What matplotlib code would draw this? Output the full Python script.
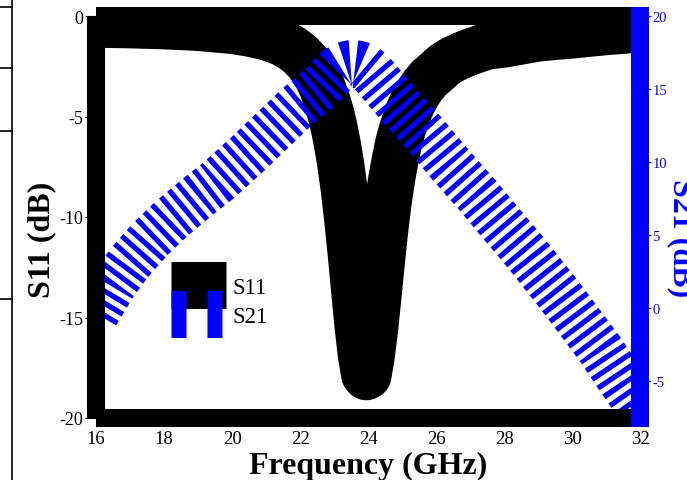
import matplotlib
matplotlib.use('Agg')
import matplotlib.pyplot as plt
from matplotlib.lines import Line2D

# ---------------- data ----------------
freq_s11 = [16, 17, 18, 19, 20, 20.5, 21.0, 21.25, 21.5, 21.75, 22.0, 22.25,
            22.5, 22.65, 22.8, 22.9, 23.0, 23.1, 23.2, 23.3, 23.4, 23.5, 23.6,
            23.7, 23.8, 23.9, 23.95, 24.0, 24.1, 24.2, 24.3, 24.4, 24.5, 24.6,
            24.7, 24.8, 24.9, 25.0, 25.15, 25.3, 25.45, 25.6, 25.8, 26.0,
            26.25, 26.5, 26.75, 27.0, 27.5, 28.0, 28.5, 29.0, 29.5, 30.0,
            31.0, 32.0]
s11_db = [-0.41, -0.44, -0.49, -0.57, -0.72, -0.85, -1.04, -1.18, -1.35, -1.59,
          -1.91, -2.35, -3.0, -3.54, -4.24, -4.82, -5.52, -6.38, -7.4, -8.64,
          -10.1, -11.76, -13.57, -15.35, -16.83, -17.85, -17.95, -17.9, -16.9,
          -15.51, -13.87, -12.16, -10.56, -9.2, -8.07, -7.15, -6.34, -5.7,
          -4.93, -4.35, -3.88, -3.5, -3.09, -2.8, -2.42, -2.16, -1.96, -1.79,
          -1.5, -1.4, -1.25, -1.1, -1.02, -0.95, -0.78, -0.65]

freq_s21 = [16.0, 16.29, 16.52, 17.0, 17.6, 18.21, 19.06, 19.59, 20.53, 21.2,
            21.91, 22.59, 23.11, 23.27, 23.44, 23.56, 23.74, 23.9, 24.09, 24.5,
            24.94, 25.7, 26.41, 27.2, 27.88, 28.68, 29.65, 30.82, 31.47, 32.0]
s21_db = [-0.34, 0.78, 1.67, 3.17, 4.75, 6.11, 7.76, 8.72, 10.7, 12.2,
          13.78, 15.1, 16.37, 16.6, 16.73, 16.75, 16.7, 16.54, 16.17, 15.05,
          13.84, 11.85, 9.87, 7.8, 5.9, 3.7, 0.85, -2.77, -5.03, -6.8]

xticks = [16, 18, 20, 22, 24, 26, 28, 30, 32]
yticks_left = [0, -5, -10, -15, -20]
yticks_right = [-5, 0, 5, 10, 15, 20]
series_labels = ['S11', 'S21']

# ---------------- style ----------------
plt.rcParams['font.family'] = ['Liberation Serif', 'DejaVu Serif']
plt.rcParams['axes.unicode_minus'] = False
plt.rcParams['lines.scale_dashes'] = False

W, H = 687, 481
fig = plt.figure(figsize=(W / 100, H / 100), dpi=100)

x0, x1, ytop, ybot = 96, 640, 17, 419
ax = fig.add_axes([x0 / W, 1 - ybot / H, (x1 - x0) / W, (ybot - ytop) / H])
ax2 = ax.twinx()

LW = 47 * 72 / 100  # thick curves (~47 px)
SPW = 18 * 72 / 100  # thick spines (~18 px)

ax.plot(freq_s11, s11_db, color='black', lw=LW,
        solid_joinstyle='round', solid_capstyle='butt')
ax2.plot(freq_s21, s21_db, color='blue', lw=LW, linestyle=(0, (3.8, 3.7)),
         dash_capstyle='butt', dash_joinstyle='bevel')

ax.set_xlim(16, 32)
ax.set_ylim(-20, 0)
ax2.set_ylim(-7.5, 20)

ax.set_xticks(xticks)
ax.set_xticklabels([str(t) for t in xticks], fontsize=13.5)
ax.set_yticks(yticks_left)
ax.set_yticklabels([str(t) for t in yticks_left], fontsize=13)
ax2.set_yticks(yticks_right)
ax2.set_yticklabels([str(t) for t in yticks_right], fontsize=10.5, color='blue')

ax.tick_params(axis='x', length=0, pad=9)
ax.tick_params(axis='y', direction='out', length=8, width=0.8, pad=1)
ax2.tick_params(axis='y', direction='out', length=8, width=0.8, pad=1,
                colors='blue')

for a in (ax, ax2):
    for name, sp in a.spines.items():
        sp.set_linewidth(SPW)
        sp.set_capstyle('butt')
        sp.set_color('blue' if name == 'right' else 'black')
ax2.spines['right'].set_capstyle('projecting')
ax2.spines['right'].set_zorder(2.6)

# axis labels
fig.text(368 / W, 1 - 474 / H, 'Frequency (GHz)', fontsize=23, fontweight='bold',
         ha='center', va='baseline')
fig.text(42 / W, 1 - 240 / H, 'S11 (dB)', fontsize=23, fontweight='bold',
         rotation=90, ha='center', va='center')
fig.text(681 / W, 1 - 238 / H, 'S21 (dB)', fontsize=23, fontweight='bold',
         rotation=270, ha='center', va='center', color='blue')

# legend
h1 = Line2D([], [], color='black', lw=LW, solid_capstyle='butt')
h2 = Line2D([], [], color='blue', lw=LW, linestyle=(0, (10.8, 15.1)),
            dash_capstyle='butt')
ax2.legend([h1, h2], series_labels, loc='upper left',
           bbox_to_anchor=(171 / W, 1 - 277.5 / H), bbox_transform=fig.transFigure,
           frameon=False, fontsize=16.5, handlelength=2.4, handletextpad=0.3,
           borderpad=0, borderaxespad=0, labelspacing=0.37)

# stray frame lines at the very left edge of the reference image
fig.add_artist(Line2D([11.5 / W, 11.5 / W], [0, 1], transform=fig.transFigure,
                      color='black', lw=1.2))
for yy in (8, 69, 132, 300):
    fig.add_artist(Line2D([0, 11.5 / W], [1 - yy / H, 1 - yy / H],
                          transform=fig.transFigure, color='black', lw=1.2))

fig.savefig('out.png', dpi=100)
